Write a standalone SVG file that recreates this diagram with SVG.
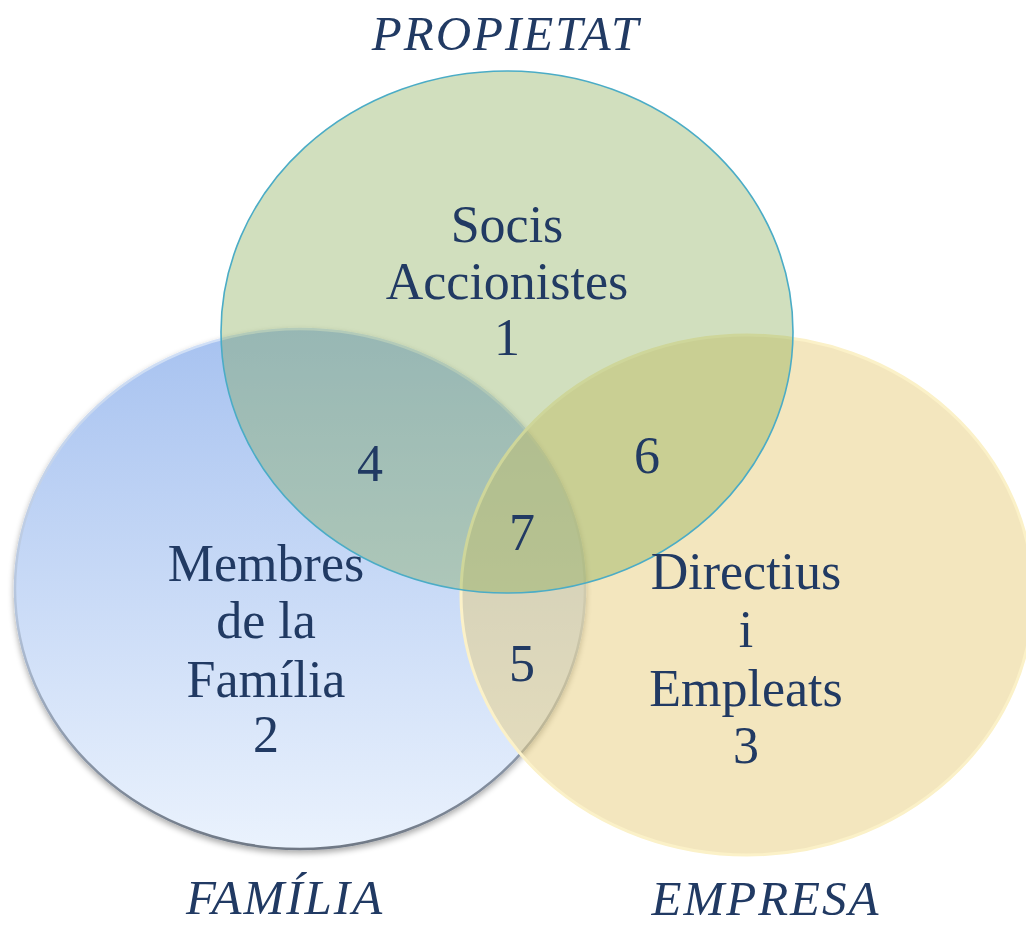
<svg xmlns="http://www.w3.org/2000/svg" width="1026" height="928" viewBox="0 0 1026 928">
<defs>
<linearGradient id="gBlue" x1="0" y1="0" x2="0" y2="1">
<stop offset="0" stop-color="#A7C2F0"/>
<stop offset="1" stop-color="#EAF2FD"/>
</linearGradient>
<linearGradient id="gBlueEdge" x1="0" y1="0" x2="0" y2="1">
<stop offset="0" stop-color="#D2E1F8"/>
<stop offset="0.55" stop-color="#B4C4DC"/>
<stop offset="1" stop-color="#6F7885"/>
</linearGradient>
<filter id="shadow" x="-10%" y="-10%" width="120%" height="125%">
<feGaussianBlur in="SourceAlpha" stdDeviation="3"/>
<feOffset dx="0" dy="3"/>
<feComponentTransfer><feFuncA type="linear" slope="0.35"/></feComponentTransfer>
<feMerge><feMergeNode/><feMergeNode in="SourceGraphic"/></feMerge>
</filter>
</defs>
<style>
.lbl{font-family:"Liberation Serif","DejaVu Serif",serif;font-size:52px;fill:#213A63;text-anchor:middle}
.title{font-family:"Liberation Serif","DejaVu Serif",serif;font-size:49px;font-style:italic;letter-spacing:2px;fill:#213A63;text-anchor:middle}
</style>
<rect width="1026" height="928" fill="#FFFFFF"/>
<g id="connectors"/>
<g id="familia">
<ellipse cx="300" cy="589" rx="285" ry="260" fill="url(#gBlue)" stroke="url(#gBlueEdge)" stroke-width="2.5" filter="url(#shadow)"/>
</g>
<g id="empresa">
<ellipse cx="747" cy="595" rx="286" ry="260" fill="#E7CD7D" fill-opacity="0.5" stroke="#FBF1C8" stroke-width="3"/>
</g>
<g id="propietat">
<ellipse cx="507" cy="332" rx="286" ry="261" fill="#7CA445" fill-opacity="0.35" stroke="#4BACC6" stroke-width="1.6"/>
</g>
<g id="labels">
<text class="title" x="506" y="50">PROPIETAT</text>
<text class="title" x="285" y="914">FAMÍLIA</text>
<text class="title" x="766" y="915">EMPRESA</text>
<text class="lbl" x="507" y="242">Socis</text>
<text class="lbl" x="507" y="299">Accionistes</text>
<text class="lbl" x="507" y="355" font-size="40">1</text>
<text class="lbl" x="266" y="581">Membres</text>
<text class="lbl" x="266" y="638">de la</text>
<text class="lbl" x="266" y="697">Família</text>
<text class="lbl" x="266" y="752" font-size="40">2</text>
<text class="lbl" x="746" y="589">Directius</text>
<text class="lbl" x="746" y="647">i</text>
<text class="lbl" x="746" y="706">Empleats</text>
<text class="lbl" x="746" y="763" font-size="46">3</text>
<text class="lbl" x="370" y="481">4</text>
<text class="lbl" x="522" y="681">5</text>
<text class="lbl" x="647" y="473">6</text>
<text class="lbl" x="522" y="550">7</text>
</g>
</svg>
